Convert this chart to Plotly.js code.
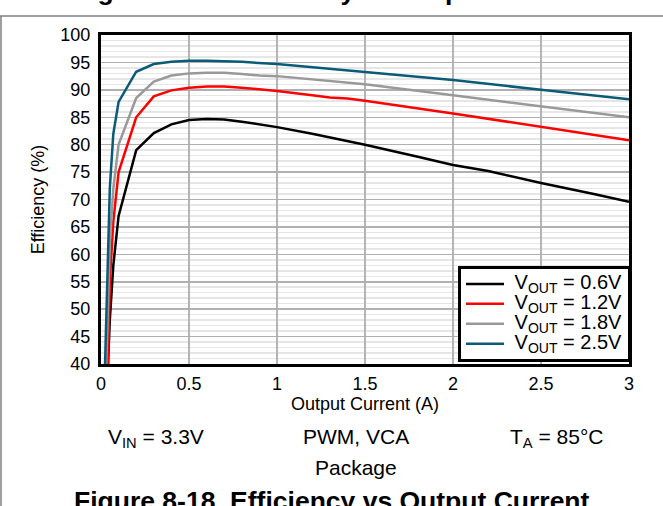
<!DOCTYPE html>
<html>
<head>
<meta charset="utf-8">
<script src="https://cdn.plot.ly/plotly-3.0.1.min.js"></script>
<style>html,body{margin:0;padding:0;background:#fff;}#chart{width:663px;height:506px;}</style>
</head>
<body>
<div id="chart"></div>
<script>
// Output current (A) and efficiency (%) per output voltage
const x06 = [0.04, 0.05, 0.07, 0.1, 0.2, 0.3, 0.4, 0.5, 0.6, 0.7, 0.8, 1.0, 1.2, 1.5, 1.8, 2.0, 2.2, 2.5, 2.8, 3.0];
const y06 = [40, 48, 58, 67, 79, 82.1, 83.7, 84.5, 84.7, 84.6, 84.2, 83.2, 82.0, 80.0, 77.8, 76.3, 75.2, 73.0, 71.0, 69.6];
const x12 = [0.04, 0.05, 0.07, 0.1, 0.2, 0.3, 0.4, 0.5, 0.6, 0.7, 0.8, 1.0, 1.2, 1.3, 1.4, 1.5, 2.0, 2.5, 3.0];
const y12 = [40, 55, 66, 75, 85, 88.8, 89.9, 90.4, 90.6, 90.6, 90.4, 89.8, 89.0, 88.6, 88.4, 88.0, 85.7, 83.2, 80.8];
const x18 = [0.03, 0.05, 0.07, 0.1, 0.2, 0.3, 0.4, 0.5, 0.6, 0.7, 0.8, 0.9, 1.0, 1.5, 2.0, 2.5, 3.0];
const y18 = [40, 62, 72, 80, 88.5, 91.5, 92.6, 93.0, 93.1, 93.1, 92.9, 92.6, 92.5, 91.0, 89.0, 87.0, 85.0];
const x25 = [0.023, 0.04, 0.05, 0.07, 0.1, 0.2, 0.3, 0.4, 0.5, 0.6, 0.7, 0.8, 1.0, 1.5, 2.0, 2.5, 3.0];
const y25 = [40, 62, 72, 82, 87.8, 93.3, 94.7, 95.1, 95.3, 95.3, 95.2, 95.1, 94.7, 93.3, 91.8, 90.0, 88.3];
const seriesNames = ["V<sub>OUT</sub> = 0.6V", "V<sub>OUT</sub> = 1.2V", "V<sub>OUT</sub> = 1.8V", "V<sub>OUT</sub> = 2.5V"];
const seriesColors = ["#000000", "#ff0000", "#999999", "#0b5b78"];
const xs = [x06, x12, x18, x25];
const ys = [y06, y12, y18, y25];

const FONT = "Arial, 'Liberation Sans', sans-serif";
const traces = xs.map((x, i) => ({
  x: x, y: ys[i], type: "scatter", mode: "lines",
  name: '<span style="font-size:20px">\u00a0' + seriesNames[i] + '</span>',
  line: {color: seriesColors[i], width: 2.5}
}));

const L = 101, R = 629, T = 35, B = 364, W = R - L, H = B - T;
const px = v => (v - L) / W;
const py = v => (B - v) / H;

const layout = {
  width: 663, height: 506,
  margin: {l: L, r: 663 - R, t: T, b: 506 - B},
  paper_bgcolor: "#fff", plot_bgcolor: "#fff",
  font: {family: FONT, color: "#000", size: 18},
  showlegend: true,
  legend: {
    x: px(631), xanchor: "right", y: py(362), yanchor: "bottom",
    bgcolor: "#fff", bordercolor: "#000", borderwidth: 3,
    font: {family: FONT, size: 13, color: "#000"},
    itemwidth: 38,
    tracegroupgap: 0
  },
  xaxis: {
    range: [0, 3], dtick: 0.5, tick0: 0,
    showgrid: true, gridcolor: "#b4b4b4", gridwidth: 1.5,
    zeroline: false, showline: true, linecolor: "#000", linewidth: 3, mirror: true,
    ticks: "outside", ticklen: 1, tickcolor: "rgba(0,0,0,0)",
    tickfont: {family: FONT, size: 18},
    title: {text: "Output Current (A)", font: {family: FONT, size: 18}, standoff: 2},
    automargin: false
  },
  yaxis: {
    range: [40, 100], dtick: 5, tick0: 40,
    showgrid: true, gridcolor: "#b0b0b0", gridwidth: 1.5,
    minor: {dtick: 1, showgrid: true, gridcolor: "#e6e6e6", gridwidth: 1.5},
    zeroline: false, showline: true, linecolor: "#000", linewidth: 3, mirror: true,
    ticks: "outside", ticklen: 4, tickcolor: "rgba(0,0,0,0)",
    tickfont: {family: FONT, size: 18},
    title: {text: "Efficiency (%)", font: {family: FONT, size: 18}, standoff: 12},
    automargin: false
  },
  shapes: [
    {type: "line", xref: "paper", yref: "paper", x0: px(1), x1: px(1), y0: py(16), y1: py(520), line: {color: "#7f7f7f", width: 1.5}},
    {type: "line", xref: "paper", yref: "paper", x0: px(0), x1: px(663), y0: py(16), y1: py(16), line: {color: "#7f7f7f", width: 1.5}}
  ],
  annotations: [
    {text: "<b>Figure 8-17. Efficiency vs Output Current</b>", xref: "paper", yref: "paper", x: px(332), y: py(8), xanchor: "center", yanchor: "bottom", showarrow: false, font: {family: FONT, size: 26.5}},
    {text: "V<sub>IN</sub> = 3.3V", xref: "paper", yref: "paper", x: px(156), y: py(438), xanchor: "center", yanchor: "middle", showarrow: false, font: {family: FONT, size: 21}},
    {text: "PWM, VCA", xref: "paper", yref: "paper", x: px(356), y: py(437), xanchor: "center", yanchor: "middle", showarrow: false, font: {family: FONT, size: 21}},
    {text: "T<sub>A</sub> = 85°C", xref: "paper", yref: "paper", x: px(556), y: py(438), xanchor: "center", yanchor: "middle", showarrow: false, font: {family: FONT, size: 21}},
    {text: "Package", xref: "paper", yref: "paper", x: px(356), y: py(467), xanchor: "center", yanchor: "middle", showarrow: false, font: {family: FONT, size: 21}},
    {text: "<b>Figure 8-18. Efficiency vs Output Current</b>", xref: "paper", yref: "paper", x: px(332), y: py(484), xanchor: "center", yanchor: "top", showarrow: false, font: {family: FONT, size: 26.5}}
  ]
};

Plotly.newPlot("chart", traces, layout, {displayModeBar: false, staticPlot: true});
</script>
</body>
</html>
